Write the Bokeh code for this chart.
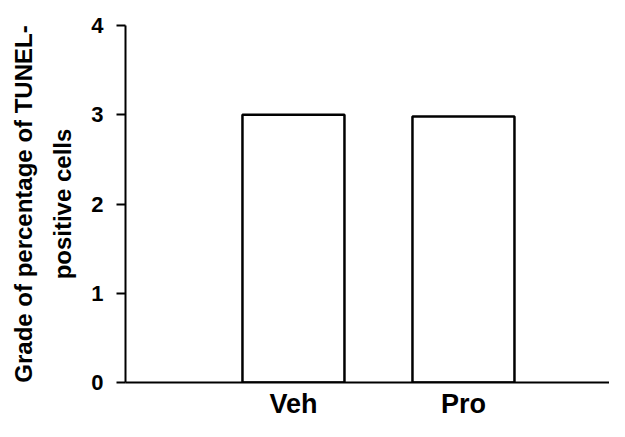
from bokeh.plotting import figure
from bokeh.models import FixedTicker, Range1d
from bokeh.embed import file_html
from bokeh.resources import INLINE

categories = ["Veh", "Pro"]
grades = [3.0, 2.98]
y_ticks = [0, 1, 2, 3, 4]
y_title = "Grade of percentage of TUNEL-\npositive cells"

xs = [i + 1 for i in range(len(categories))]

FONT = "Liberation Sans"

p = figure(width=609, height=421, output_backend="svg", toolbar_location=None,
           x_range=Range1d(0.012, 2.859), y_range=Range1d(0, 4),
           min_border_left=125, min_border_right=0, min_border_top=25,
           min_border_bottom=39)
p.background_fill_color = "white"
p.border_fill_color = "white"
p.outline_line_color = None
p.grid.visible = False

p.vbar(x=xs, top=grades, bottom=0, width=0.6, fill_color="white",
       line_color="black", line_width=2.5)

# x axis
xa = p.xaxis[0]
xa.ticker = FixedTicker(ticks=xs)
xa.major_label_overrides = {x: c for x, c in zip(xs, categories)}
xa.major_tick_out = 0
xa.major_tick_in = 0
xa.minor_tick_out = 0
xa.minor_tick_in = 0
xa.axis_line_width = 2
xa.axis_line_color = "black"
xa.major_label_text_font = FONT
xa.major_label_text_font_style = "bold"
xa.major_label_text_font_size = "27px"
xa.major_label_text_color = "black"
xa.major_label_standoff = 6

# y axis
ya = p.yaxis[0]
ya.ticker = FixedTicker(ticks=y_ticks)
ya.major_tick_out = 9
ya.major_tick_in = 0
ya.minor_tick_out = 0
ya.minor_tick_in = 0
ya.axis_line_width = 2
ya.major_tick_line_width = 2
ya.axis_line_color = "black"
ya.major_label_text_font = FONT
ya.major_label_text_font_style = "bold"
ya.major_label_text_font_size = "22px"
ya.major_label_text_color = "black"
ya.major_label_standoff = 13
ya.axis_label = y_title
ya.axis_label_text_font = FONT
ya.axis_label_text_font_style = "bold"
ya.axis_label_text_font_size = "24px"
ya.axis_label_text_color = "black"
ya.axis_label_text_line_height = 1.45
ya.axis_label_standoff = 12

open("out.html", "w").write(file_html(p, INLINE))
